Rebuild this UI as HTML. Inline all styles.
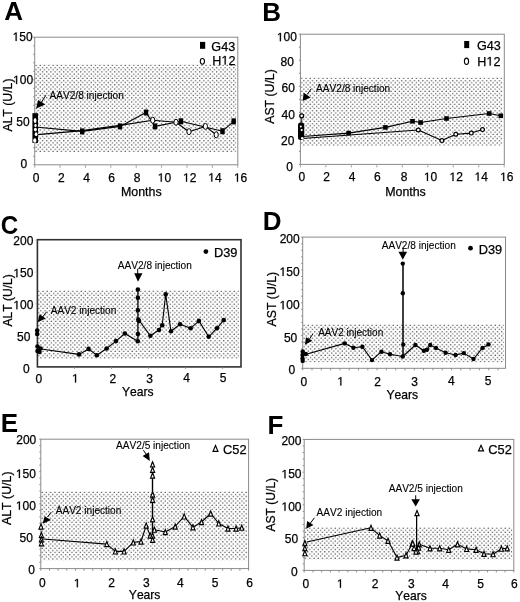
<!DOCTYPE html>
<html><head><meta charset="utf-8"><style>
html,body{margin:0;padding:0;background:#fff;}
body{width:520px;height:602px;overflow:hidden;}
svg{display:block;will-change:transform;font-family:"Liberation Sans",sans-serif;font-kerning:none;}
text{stroke:#000;stroke-width:0.25px;}
text[font-weight=bold]{stroke:none;}
</style></head><body>
<svg width="520" height="602" viewBox="0 0 520 602">
<defs><filter id="soft" x="-2%" y="-5%" width="104%" height="110%"><feGaussianBlur stdDeviation="0.4"/></filter><pattern id="dots0" x="35.00" y="64.33" width="4.25" height="4.3" patternUnits="userSpaceOnUse"><circle cx="1.062" cy="1.075" r="0.72" fill="#505050"/><circle cx="3.188" cy="3.225" r="0.72" fill="#505050"/></pattern><pattern id="dots1" x="300.70" y="77.33" width="4.25" height="4.3" patternUnits="userSpaceOnUse"><circle cx="1.062" cy="1.075" r="0.72" fill="#505050"/><circle cx="3.188" cy="3.225" r="0.72" fill="#505050"/></pattern><pattern id="dots2" x="37.70" y="290.12" width="4.25" height="4.3" patternUnits="userSpaceOnUse"><circle cx="1.062" cy="1.075" r="0.72" fill="#505050"/><circle cx="3.188" cy="3.225" r="0.72" fill="#505050"/></pattern><pattern id="dots3" x="303.00" y="324.12" width="4.25" height="4.3" patternUnits="userSpaceOnUse"><circle cx="1.062" cy="1.075" r="0.72" fill="#505050"/><circle cx="3.188" cy="3.225" r="0.72" fill="#505050"/></pattern><pattern id="dots4" x="41.10" y="491.23" width="4.25" height="4.3" patternUnits="userSpaceOnUse"><circle cx="1.062" cy="1.075" r="0.72" fill="#505050"/><circle cx="3.188" cy="3.225" r="0.72" fill="#505050"/></pattern><pattern id="dots5" x="304.50" y="527.02" width="4.25" height="4.3" patternUnits="userSpaceOnUse"><circle cx="1.062" cy="1.075" r="0.72" fill="#505050"/><circle cx="3.188" cy="3.225" r="0.72" fill="#505050"/></pattern></defs>
<rect width="520" height="602" fill="#fff"/>
<text x="4.15" y="20.39" font-size="26" font-weight="bold" fill="#000">A</text>
<rect x="34.70" y="64.45" width="201.50" height="88.30" fill="url(#dots0)" filter="url(#soft)"/>
<rect x="34.70" y="37.20" width="203.10" height="127.60" fill="none" stroke="#8a8a8a" stroke-width="1.0"/>
<line x1="33.20" y1="164.80" x2="34.70" y2="164.80" stroke="#8a8a8a" stroke-width="1"/>
<line x1="33.20" y1="156.30" x2="34.70" y2="156.30" stroke="#8a8a8a" stroke-width="1"/>
<line x1="33.20" y1="147.80" x2="34.70" y2="147.80" stroke="#8a8a8a" stroke-width="1"/>
<line x1="33.20" y1="139.30" x2="34.70" y2="139.30" stroke="#8a8a8a" stroke-width="1"/>
<line x1="33.20" y1="130.80" x2="34.70" y2="130.80" stroke="#8a8a8a" stroke-width="1"/>
<line x1="33.20" y1="122.30" x2="34.70" y2="122.30" stroke="#8a8a8a" stroke-width="1"/>
<line x1="33.20" y1="113.80" x2="34.70" y2="113.80" stroke="#8a8a8a" stroke-width="1"/>
<line x1="33.20" y1="105.30" x2="34.70" y2="105.30" stroke="#8a8a8a" stroke-width="1"/>
<line x1="33.20" y1="96.80" x2="34.70" y2="96.80" stroke="#8a8a8a" stroke-width="1"/>
<line x1="33.20" y1="88.30" x2="34.70" y2="88.30" stroke="#8a8a8a" stroke-width="1"/>
<line x1="33.20" y1="79.80" x2="34.70" y2="79.80" stroke="#8a8a8a" stroke-width="1"/>
<line x1="33.20" y1="71.30" x2="34.70" y2="71.30" stroke="#8a8a8a" stroke-width="1"/>
<line x1="33.20" y1="62.80" x2="34.70" y2="62.80" stroke="#8a8a8a" stroke-width="1"/>
<line x1="33.20" y1="54.30" x2="34.70" y2="54.30" stroke="#8a8a8a" stroke-width="1"/>
<line x1="33.20" y1="45.80" x2="34.70" y2="45.80" stroke="#8a8a8a" stroke-width="1"/>
<line x1="33.20" y1="37.30" x2="34.70" y2="37.30" stroke="#8a8a8a" stroke-width="1"/>
<line x1="34.70" y1="164.80" x2="34.70" y2="167.80" stroke="#a8a8a8" stroke-width="1"/>
<line x1="60.08" y1="164.80" x2="60.08" y2="167.80" stroke="#a8a8a8" stroke-width="1"/>
<line x1="85.46" y1="164.80" x2="85.46" y2="167.80" stroke="#a8a8a8" stroke-width="1"/>
<line x1="110.84" y1="164.80" x2="110.84" y2="167.80" stroke="#a8a8a8" stroke-width="1"/>
<line x1="136.22" y1="164.80" x2="136.22" y2="167.80" stroke="#a8a8a8" stroke-width="1"/>
<line x1="161.60" y1="164.80" x2="161.60" y2="167.80" stroke="#a8a8a8" stroke-width="1"/>
<line x1="186.98" y1="164.80" x2="186.98" y2="167.80" stroke="#a8a8a8" stroke-width="1"/>
<line x1="212.36" y1="164.80" x2="212.36" y2="167.80" stroke="#a8a8a8" stroke-width="1"/>
<line x1="237.74" y1="164.80" x2="237.74" y2="167.80" stroke="#a8a8a8" stroke-width="1"/>
<text x="12.59" y="40.88" font-size="12.0" fill="#000"><tspan style="fill:none;stroke:none">1</tspan>50</text>
<path d="M15.60,40.88 L15.60,33.63 L13.74,34.96 L13.74,33.96 L15.69,32.62 L16.66,32.62 L16.66,40.88 Z" fill="#000" stroke="#000" stroke-width="0.25"/>
<text x="13.09" y="84.08" font-size="12.0" fill="#000"><tspan style="fill:none;stroke:none">1</tspan>00</text>
<path d="M16.10,84.08 L16.10,76.83 L14.24,78.16 L14.24,77.16 L16.19,75.82 L17.16,75.82 L17.16,84.08 Z" fill="#000" stroke="#000" stroke-width="0.25"/>
<text x="16.32" y="125.88" font-size="12.0" fill="#000">50</text>
<text x="20.53" y="168.28" font-size="12.0" fill="#000">0</text>
<text x="32.66" y="181.68" font-size="12.0" fill="#000">0</text>
<text x="57.96" y="181.68" font-size="12.0" fill="#000">2</text>
<text x="83.20" y="181.56" font-size="12.0" fill="#000">4</text>
<text x="108.22" y="181.68" font-size="12.0" fill="#000">6</text>
<text x="133.66" y="181.68" font-size="12.0" fill="#000">8</text>
<text x="157.70" y="181.68" font-size="12.0" fill="#000"><tspan style="fill:none;stroke:none">1</tspan>0</text>
<path d="M160.72,181.68 L160.72,174.43 L158.86,175.76 L158.86,174.76 L160.81,173.42 L161.78,173.42 L161.78,181.68 Z" fill="#000" stroke="#000" stroke-width="0.25"/>
<text x="182.97" y="181.68" font-size="12.0" fill="#000"><tspan style="fill:none;stroke:none">1</tspan>2</text>
<path d="M185.99,181.68 L185.99,174.43 L184.13,175.76 L184.13,174.76 L186.08,173.42 L187.05,173.42 L187.05,181.68 Z" fill="#000" stroke="#000" stroke-width="0.25"/>
<text x="208.24" y="181.56" font-size="12.0" fill="#000"><tspan style="fill:none;stroke:none">1</tspan>4</text>
<path d="M211.26,181.56 L211.26,174.31 L209.40,175.64 L209.40,174.64 L211.35,173.30 L212.32,173.30 L212.32,181.56 Z" fill="#000" stroke="#000" stroke-width="0.25"/>
<text x="233.93" y="181.68" font-size="12.0" fill="#000"><tspan style="fill:none;stroke:none">1</tspan>6</text>
<path d="M236.95,181.68 L236.95,174.43 L235.09,175.76 L235.09,174.76 L237.04,173.42 L238.01,173.42 L238.01,181.68 Z" fill="#000" stroke="#000" stroke-width="0.25"/>
<text x="120.98" y="196.30" font-size="12.4" fill="#000">Months</text>
<text transform="translate(12.38,131.62) rotate(-90)" font-size="12.25" fill="#000">ALT (U/L)</text>
<rect x="200.00" y="41.90" width="5.2" height="6.9" fill="#000"/>
<text x="211.37" y="50.60" font-size="12.6" fill="#000">G43</text>
<ellipse cx="202.40" cy="61.35" rx="2.1" ry="2.9" fill="#fff" stroke="#000" stroke-width="1.1"/>
<text x="212.37" y="64.60" font-size="12.6" fill="#000">H<tspan style="fill:none;stroke:none">1</tspan>2</text>
<path d="M224.63,64.60 L224.63,56.99 L222.68,58.39 L222.68,57.34 L224.73,55.93 L225.75,55.93 L225.75,64.60 Z" fill="#000" stroke="#000" stroke-width="0.25"/>
<polyline points="45.90,95.20 41.50,102.00" fill="none" stroke="#000" stroke-width="1.0" stroke-linejoin="round"/>
<polygon points="36.10,108.50 38.10,100.10 45.30,104.40" fill="#000"/>
<text x="49.48" y="98.80" font-size="10.15" fill="#000" style="stroke-width:0.1px">AAV2/8 injection</text>
<polyline points="37.60,127.30 82.20,131.40 120.00,126.40 146.00,112.50 155.00,126.40 181.00,121.30 222.50,131.20 233.70,121.40" fill="none" stroke="#000" stroke-width="1.1" stroke-linejoin="round"/>
<polyline points="37.60,134.60 82.20,130.60 120.00,125.40 152.70,120.20 176.00,122.30 189.00,131.70 205.40,126.40 216.20,134.80" fill="none" stroke="#000" stroke-width="1.1" stroke-linejoin="round"/>
<rect x="32.4" y="113.2" width="5.6" height="29.7" fill="#000"/>
<ellipse cx="35.1" cy="120.6" rx="1.4" ry="2.5" fill="#fff"/>
<ellipse cx="35.5" cy="125.4" rx="1.2" ry="1.6" fill="#fff"/>
<ellipse cx="35.4" cy="129.6" rx="1.5" ry="1.8" fill="#fff"/>
<ellipse cx="36.1" cy="134.2" rx="1.4" ry="1.9" fill="#fff"/>
<ellipse cx="34.8" cy="140.5" rx="1.6" ry="2.3" fill="#fff"/>
<ellipse cx="152.70" cy="120.20" rx="2.1" ry="3.0" fill="#fff" stroke="#000" stroke-width="1.0"/>
<ellipse cx="176.00" cy="122.30" rx="2.1" ry="3.0" fill="#fff" stroke="#000" stroke-width="1.0"/>
<ellipse cx="189.00" cy="131.70" rx="2.1" ry="3.0" fill="#fff" stroke="#000" stroke-width="1.0"/>
<ellipse cx="205.40" cy="126.40" rx="2.1" ry="3.0" fill="#fff" stroke="#000" stroke-width="1.0"/>
<ellipse cx="216.20" cy="134.80" rx="2.1" ry="3.0" fill="#fff" stroke="#000" stroke-width="1.0"/>
<rect x="80.00" y="128.40" width="4.4" height="6.0" fill="#000"/>
<rect x="117.80" y="123.40" width="4.4" height="6.0" fill="#000"/>
<rect x="143.80" y="109.50" width="4.4" height="6.0" fill="#000"/>
<rect x="152.80" y="123.40" width="4.4" height="6.0" fill="#000"/>
<rect x="178.80" y="118.30" width="4.4" height="6.0" fill="#000"/>
<rect x="220.30" y="128.20" width="4.4" height="6.0" fill="#000"/>
<rect x="231.50" y="118.40" width="4.4" height="6.0" fill="#000"/>
<text x="262.26" y="20.79" font-size="26" font-weight="bold" fill="#000">B</text>
<rect x="300.40" y="77.45" width="202.30" height="68.40" fill="url(#dots1)" filter="url(#soft)"/>
<rect x="300.40" y="34.20" width="203.90" height="130.20" fill="none" stroke="#8a8a8a" stroke-width="1.0"/>
<line x1="298.90" y1="164.40" x2="300.40" y2="164.40" stroke="#8a8a8a" stroke-width="1"/>
<line x1="298.90" y1="151.38" x2="300.40" y2="151.38" stroke="#8a8a8a" stroke-width="1"/>
<line x1="298.90" y1="138.36" x2="300.40" y2="138.36" stroke="#8a8a8a" stroke-width="1"/>
<line x1="298.90" y1="125.34" x2="300.40" y2="125.34" stroke="#8a8a8a" stroke-width="1"/>
<line x1="298.90" y1="112.32" x2="300.40" y2="112.32" stroke="#8a8a8a" stroke-width="1"/>
<line x1="298.90" y1="99.30" x2="300.40" y2="99.30" stroke="#8a8a8a" stroke-width="1"/>
<line x1="298.90" y1="86.28" x2="300.40" y2="86.28" stroke="#8a8a8a" stroke-width="1"/>
<line x1="298.90" y1="73.26" x2="300.40" y2="73.26" stroke="#8a8a8a" stroke-width="1"/>
<line x1="298.90" y1="60.24" x2="300.40" y2="60.24" stroke="#8a8a8a" stroke-width="1"/>
<line x1="298.90" y1="47.22" x2="300.40" y2="47.22" stroke="#8a8a8a" stroke-width="1"/>
<line x1="298.90" y1="34.20" x2="300.40" y2="34.20" stroke="#8a8a8a" stroke-width="1"/>
<line x1="300.40" y1="164.40" x2="300.40" y2="167.40" stroke="#a8a8a8" stroke-width="1"/>
<line x1="325.88" y1="164.40" x2="325.88" y2="167.40" stroke="#a8a8a8" stroke-width="1"/>
<line x1="351.36" y1="164.40" x2="351.36" y2="167.40" stroke="#a8a8a8" stroke-width="1"/>
<line x1="376.84" y1="164.40" x2="376.84" y2="167.40" stroke="#a8a8a8" stroke-width="1"/>
<line x1="402.32" y1="164.40" x2="402.32" y2="167.40" stroke="#a8a8a8" stroke-width="1"/>
<line x1="427.80" y1="164.40" x2="427.80" y2="167.40" stroke="#a8a8a8" stroke-width="1"/>
<line x1="453.28" y1="164.40" x2="453.28" y2="167.40" stroke="#a8a8a8" stroke-width="1"/>
<line x1="478.76" y1="164.40" x2="478.76" y2="167.40" stroke="#a8a8a8" stroke-width="1"/>
<line x1="504.24" y1="164.40" x2="504.24" y2="167.40" stroke="#a8a8a8" stroke-width="1"/>
<text x="276.85" y="41.18" font-size="12.0" fill="#000"><tspan style="fill:none;stroke:none">1</tspan>00</text>
<path d="M279.86,41.18 L279.86,33.93 L278.00,35.26 L278.00,34.26 L279.95,32.92 L280.93,32.92 L280.93,41.18 Z" fill="#000" stroke="#000" stroke-width="0.25"/>
<text x="280.52" y="66.28" font-size="12.0" fill="#000">80</text>
<text x="281.52" y="92.28" font-size="12.0" fill="#000">60</text>
<text x="281.52" y="119.18" font-size="12.0" fill="#000">40</text>
<text x="281.12" y="145.38" font-size="12.0" fill="#000">20</text>
<text x="286.19" y="170.78" font-size="12.0" fill="#000">0</text>
<text x="298.56" y="180.98" font-size="12.0" fill="#000">0</text>
<text x="323.36" y="180.98" font-size="12.0" fill="#000">2</text>
<text x="348.70" y="180.86" font-size="12.0" fill="#000">4</text>
<text x="374.12" y="180.98" font-size="12.0" fill="#000">6</text>
<text x="400.66" y="180.98" font-size="12.0" fill="#000">8</text>
<text x="423.90" y="180.98" font-size="12.0" fill="#000"><tspan style="fill:none;stroke:none">1</tspan>0</text>
<path d="M426.92,180.98 L426.92,173.73 L425.06,175.06 L425.06,174.06 L427.01,172.72 L427.98,172.72 L427.98,180.98 Z" fill="#000" stroke="#000" stroke-width="0.25"/>
<text x="449.47" y="180.98" font-size="12.0" fill="#000"><tspan style="fill:none;stroke:none">1</tspan>2</text>
<path d="M452.49,180.98 L452.49,173.73 L450.63,175.06 L450.63,174.06 L452.58,172.72 L453.55,172.72 L453.55,180.98 Z" fill="#000" stroke="#000" stroke-width="0.25"/>
<text x="474.54" y="180.86" font-size="12.0" fill="#000"><tspan style="fill:none;stroke:none">1</tspan>4</text>
<path d="M477.56,180.86 L477.56,173.61 L475.70,174.94 L475.70,173.94 L477.65,172.60 L478.62,172.60 L478.62,180.86 Z" fill="#000" stroke="#000" stroke-width="0.25"/>
<text x="500.13" y="180.98" font-size="12.0" fill="#000"><tspan style="fill:none;stroke:none">1</tspan>6</text>
<path d="M503.15,180.98 L503.15,173.73 L501.29,175.06 L501.29,174.06 L503.24,172.72 L504.21,172.72 L504.21,180.98 Z" fill="#000" stroke="#000" stroke-width="0.25"/>
<text x="385.18" y="196.30" font-size="12.4" fill="#000">Months</text>
<text transform="translate(274.38,123.72) rotate(-90)" font-size="12.26" fill="#000">AST (U/L)</text>
<rect x="464.20" y="41.00" width="5.0" height="7.1" fill="#000"/>
<text x="477.07" y="50.20" font-size="12.6" fill="#000">G43</text>
<ellipse cx="466.50" cy="61.30" rx="2.1" ry="3.15" fill="#fff" stroke="#000" stroke-width="1.1"/>
<text x="477.37" y="65.60" font-size="12.6" fill="#000">H<tspan style="fill:none;stroke:none">1</tspan>2</text>
<path d="M489.63,65.60 L489.63,57.99 L487.68,59.39 L487.68,58.34 L489.73,56.93 L490.75,56.93 L490.75,65.60 Z" fill="#000" stroke="#000" stroke-width="0.25"/>
<polyline points="311.30,88.70 307.20,94.50" fill="none" stroke="#000" stroke-width="1.0" stroke-linejoin="round"/>
<polygon points="302.60,100.90 303.70,92.80 310.70,97.40" fill="#000"/>
<text x="316.08" y="91.80" font-size="10.1" fill="#000" style="stroke-width:0.1px">AAV2/8 injection</text>
<polyline points="302.00,136.50 348.60,133.10 385.40,127.40 412.50,121.30 420.60,122.50 446.50,118.50 489.20,113.50 500.80,115.80" fill="none" stroke="#000" stroke-width="1.1" stroke-linejoin="round"/>
<polyline points="302.00,138.50 418.30,130.00 441.90,140.60 455.80,134.20 471.30,133.10 482.50,129.60" fill="none" stroke="#000" stroke-width="1.1" stroke-linejoin="round"/>
<polyline points="301.70,117.50 301.70,123.00" fill="none" stroke="#000" stroke-width="0.8" stroke-linejoin="round"/>
<rect x="298" y="122.5" width="6.2" height="17.5" rx="2.5" fill="#000"/>
<circle cx="300.8" cy="126.6" r="1.0" fill="#fff"/>
<circle cx="301.7" cy="130.1" r="1.1" fill="#fff"/>
<circle cx="302.3" cy="138.3" r="1.3" fill="#fff"/>
<ellipse cx="301.70" cy="115.80" rx="1.9" ry="2.0" fill="#fff" stroke="#000" stroke-width="1.3"/>
<ellipse cx="418.30" cy="130.00" rx="1.9" ry="1.9" fill="#fff" stroke="#000" stroke-width="1.2"/>
<ellipse cx="441.90" cy="140.60" rx="1.9" ry="1.9" fill="#fff" stroke="#000" stroke-width="1.2"/>
<ellipse cx="455.80" cy="134.20" rx="1.9" ry="1.9" fill="#fff" stroke="#000" stroke-width="1.2"/>
<ellipse cx="471.30" cy="133.10" rx="1.9" ry="1.9" fill="#fff" stroke="#000" stroke-width="1.2"/>
<ellipse cx="482.50" cy="129.60" rx="1.9" ry="1.9" fill="#fff" stroke="#000" stroke-width="1.2"/>
<rect x="346.30" y="130.80" width="4.6" height="4.6" fill="#000"/>
<rect x="383.10" y="125.10" width="4.6" height="4.6" fill="#000"/>
<rect x="410.20" y="119.00" width="4.6" height="4.6" fill="#000"/>
<rect x="418.30" y="120.20" width="4.6" height="4.6" fill="#000"/>
<rect x="444.20" y="116.20" width="4.6" height="4.6" fill="#000"/>
<rect x="486.90" y="111.20" width="4.6" height="4.6" fill="#000"/>
<rect x="498.50" y="113.50" width="4.6" height="4.6" fill="#000"/>
<text x="0.71" y="233.75" font-size="26" font-weight="bold" fill="#000" textLength="17.45" lengthAdjust="spacingAndGlyphs">C</text>
<rect x="37.40" y="290.25" width="201.40" height="68.50" fill="url(#dots2)" filter="url(#soft)"/>
<rect x="37.40" y="239.70" width="203.60" height="127.20" fill="none" stroke="#303030" stroke-width="1.6"/>
<line x1="35.50" y1="335.27" x2="36.70" y2="335.27" stroke="#aaa" stroke-width="1"/>
<line x1="35.50" y1="303.65" x2="36.70" y2="303.65" stroke="#aaa" stroke-width="1"/>
<line x1="35.50" y1="272.02" x2="36.70" y2="272.02" stroke="#aaa" stroke-width="1"/>
<line x1="35.50" y1="240.40" x2="36.70" y2="240.40" stroke="#aaa" stroke-width="1"/>
<line x1="74.45" y1="367.60" x2="74.45" y2="369.10" stroke="#aaa" stroke-width="1"/>
<line x1="111.50" y1="367.60" x2="111.50" y2="369.10" stroke="#aaa" stroke-width="1"/>
<line x1="148.55" y1="367.60" x2="148.55" y2="369.10" stroke="#aaa" stroke-width="1"/>
<line x1="185.60" y1="367.60" x2="185.60" y2="369.10" stroke="#aaa" stroke-width="1"/>
<line x1="222.65" y1="367.60" x2="222.65" y2="369.10" stroke="#aaa" stroke-width="1"/>
<text x="13.35" y="245.08" font-size="12.0" fill="#000">200</text>
<text x="13.35" y="277.18" font-size="12.0" fill="#000"><tspan style="fill:none;stroke:none">1</tspan>50</text>
<path d="M16.36,277.18 L16.36,269.93 L14.50,271.26 L14.50,270.26 L16.45,268.92 L17.43,268.92 L17.43,277.18 Z" fill="#000" stroke="#000" stroke-width="0.25"/>
<text x="13.35" y="309.18" font-size="12.0" fill="#000"><tspan style="fill:none;stroke:none">1</tspan>00</text>
<path d="M16.36,309.18 L16.36,301.93 L14.50,303.26 L14.50,302.26 L16.45,300.92 L17.43,300.92 L17.43,309.18 Z" fill="#000" stroke="#000" stroke-width="0.25"/>
<text x="17.12" y="341.38" font-size="12.0" fill="#000">50</text>
<text x="22.99" y="372.98" font-size="12.0" fill="#000">0</text>
<text x="35.41" y="382.58" font-size="12.0" fill="#000">0</text>
<text x="72.00" y="382.46" font-size="12.0" fill="#000"><tspan style="fill:none;stroke:none">1</tspan></text>
<path d="M75.02,382.46 L75.02,375.21 L73.15,376.54 L73.15,375.54 L75.10,374.20 L76.08,374.20 L76.08,382.46 Z" fill="#000" stroke="#000" stroke-width="0.25"/>
<text x="109.56" y="382.58" font-size="12.0" fill="#000">2</text>
<text x="146.30" y="382.58" font-size="12.0" fill="#000">3</text>
<text x="183.20" y="382.46" font-size="12.0" fill="#000">4</text>
<text x="219.67" y="382.46" font-size="12.0" fill="#000">5</text>
<text x="121.93" y="395.60" font-size="12.1" fill="#000">Years</text>
<text transform="translate(12.44,326.42) rotate(-90)" font-size="12.06" fill="#000">ALT (U/L)</text>
<circle cx="205.90" cy="251.60" r="2.4" fill="#000"/>
<text x="213.95" y="256.60" font-size="12.8" fill="#000">D39</text>
<polyline points="46.70,311.70 42.50,317.00" fill="none" stroke="#000" stroke-width="1.0" stroke-linejoin="round"/>
<polygon points="37.60,322.30 39.60,314.20 45.70,318.50" fill="#000"/>
<text x="50.68" y="313.50" font-size="10.1" fill="#000" style="stroke-width:0.1px">AAV2 injection</text>
<polyline points="137.70,268.80 137.70,274.00" fill="none" stroke="#000" stroke-width="1.0" stroke-linejoin="round"/>
<polygon points="134.20,273.20 142.50,273.20 138.00,281.80" fill="#000"/>
<text x="117.78" y="269.40" font-size="10.1" fill="#000" style="stroke-width:0.1px">AAV2/8 injection</text>
<polyline points="137.90,289.50 137.90,341.30" fill="none" stroke="#000" stroke-width="1.3" stroke-linejoin="round"/>
<polyline points="41.00,349.00 79.00,354.40 88.50,348.90 96.90,355.30 106.60,348.50 116.00,341.10 124.80,333.50 137.80,341.30" fill="none" stroke="#000" stroke-width="1.1" stroke-linejoin="round"/>
<polyline points="138.80,320.00 150.40,335.80 158.90,330.00 162.20,325.20 165.70,294.40 171.00,331.30 180.10,324.20 190.60,328.30 198.90,320.90 208.70,336.80 216.90,328.30 223.70,320.10" fill="none" stroke="#000" stroke-width="1.1" stroke-linejoin="round"/>
<circle cx="37.20" cy="330.50" r="2.3" fill="#000"/>
<circle cx="37.20" cy="334.00" r="2.3" fill="#000"/>
<circle cx="37.50" cy="346.50" r="2.3" fill="#000"/>
<circle cx="37.50" cy="351.00" r="2.3" fill="#000"/>
<circle cx="40.50" cy="348.50" r="2.3" fill="#000"/>
<circle cx="39.50" cy="352.00" r="2.3" fill="#000"/>
<circle cx="79.00" cy="354.40" r="2.3" fill="#000"/>
<circle cx="88.50" cy="348.90" r="2.3" fill="#000"/>
<circle cx="96.90" cy="355.30" r="2.3" fill="#000"/>
<circle cx="106.60" cy="348.50" r="2.3" fill="#000"/>
<circle cx="116.00" cy="341.10" r="2.3" fill="#000"/>
<circle cx="124.80" cy="333.50" r="2.3" fill="#000"/>
<circle cx="137.80" cy="341.30" r="2.3" fill="#000"/>
<circle cx="137.90" cy="289.50" r="2.3" fill="#000"/>
<circle cx="137.90" cy="297.80" r="2.3" fill="#000"/>
<circle cx="137.90" cy="310.20" r="2.3" fill="#000"/>
<circle cx="138.30" cy="319.50" r="2.3" fill="#000"/>
<circle cx="138.90" cy="321.00" r="2.3" fill="#000"/>
<circle cx="137.90" cy="334.00" r="2.3" fill="#000"/>
<circle cx="150.40" cy="335.80" r="2.3" fill="#000"/>
<circle cx="158.90" cy="330.00" r="2.3" fill="#000"/>
<circle cx="162.20" cy="325.20" r="2.3" fill="#000"/>
<circle cx="165.70" cy="294.40" r="2.3" fill="#000"/>
<circle cx="171.00" cy="331.30" r="2.3" fill="#000"/>
<circle cx="180.10" cy="324.20" r="2.3" fill="#000"/>
<circle cx="190.60" cy="328.30" r="2.3" fill="#000"/>
<circle cx="198.90" cy="320.90" r="2.3" fill="#000"/>
<circle cx="208.70" cy="336.80" r="2.3" fill="#000"/>
<circle cx="216.90" cy="328.30" r="2.3" fill="#000"/>
<circle cx="223.70" cy="320.10" r="2.3" fill="#000"/>
<text x="262.66" y="230.09" font-size="26" font-weight="bold" fill="#000">D</text>
<rect x="302.70" y="324.25" width="201.20" height="38.00" fill="url(#dots3)" filter="url(#soft)"/>
<rect x="302.70" y="237.10" width="202.80" height="131.20" fill="none" stroke="#8a8a8a" stroke-width="1.0"/>
<line x1="301.20" y1="368.30" x2="302.70" y2="368.30" stroke="#8a8a8a" stroke-width="1"/>
<line x1="301.20" y1="361.75" x2="302.70" y2="361.75" stroke="#8a8a8a" stroke-width="1"/>
<line x1="301.20" y1="355.19" x2="302.70" y2="355.19" stroke="#8a8a8a" stroke-width="1"/>
<line x1="301.20" y1="348.63" x2="302.70" y2="348.63" stroke="#8a8a8a" stroke-width="1"/>
<line x1="301.20" y1="342.08" x2="302.70" y2="342.08" stroke="#8a8a8a" stroke-width="1"/>
<line x1="301.20" y1="335.53" x2="302.70" y2="335.53" stroke="#8a8a8a" stroke-width="1"/>
<line x1="301.20" y1="328.97" x2="302.70" y2="328.97" stroke="#8a8a8a" stroke-width="1"/>
<line x1="301.20" y1="322.42" x2="302.70" y2="322.42" stroke="#8a8a8a" stroke-width="1"/>
<line x1="301.20" y1="315.86" x2="302.70" y2="315.86" stroke="#8a8a8a" stroke-width="1"/>
<line x1="301.20" y1="309.31" x2="302.70" y2="309.31" stroke="#8a8a8a" stroke-width="1"/>
<line x1="301.20" y1="302.75" x2="302.70" y2="302.75" stroke="#8a8a8a" stroke-width="1"/>
<line x1="301.20" y1="296.20" x2="302.70" y2="296.20" stroke="#8a8a8a" stroke-width="1"/>
<line x1="301.20" y1="289.64" x2="302.70" y2="289.64" stroke="#8a8a8a" stroke-width="1"/>
<line x1="301.20" y1="283.09" x2="302.70" y2="283.09" stroke="#8a8a8a" stroke-width="1"/>
<line x1="301.20" y1="276.53" x2="302.70" y2="276.53" stroke="#8a8a8a" stroke-width="1"/>
<line x1="301.20" y1="269.98" x2="302.70" y2="269.98" stroke="#8a8a8a" stroke-width="1"/>
<line x1="301.20" y1="263.42" x2="302.70" y2="263.42" stroke="#8a8a8a" stroke-width="1"/>
<line x1="301.20" y1="256.87" x2="302.70" y2="256.87" stroke="#8a8a8a" stroke-width="1"/>
<line x1="301.20" y1="250.31" x2="302.70" y2="250.31" stroke="#8a8a8a" stroke-width="1"/>
<line x1="301.20" y1="243.76" x2="302.70" y2="243.76" stroke="#8a8a8a" stroke-width="1"/>
<line x1="301.20" y1="237.20" x2="302.70" y2="237.20" stroke="#8a8a8a" stroke-width="1"/>
<line x1="302.70" y1="368.30" x2="302.70" y2="370.30" stroke="#8a8a8a" stroke-width="1"/>
<line x1="312.00" y1="368.30" x2="312.00" y2="370.30" stroke="#8a8a8a" stroke-width="1"/>
<line x1="321.30" y1="368.30" x2="321.30" y2="370.30" stroke="#8a8a8a" stroke-width="1"/>
<line x1="330.60" y1="368.30" x2="330.60" y2="370.30" stroke="#8a8a8a" stroke-width="1"/>
<line x1="339.90" y1="368.30" x2="339.90" y2="370.30" stroke="#8a8a8a" stroke-width="1"/>
<line x1="349.20" y1="368.30" x2="349.20" y2="370.30" stroke="#8a8a8a" stroke-width="1"/>
<line x1="358.50" y1="368.30" x2="358.50" y2="370.30" stroke="#8a8a8a" stroke-width="1"/>
<line x1="367.80" y1="368.30" x2="367.80" y2="370.30" stroke="#8a8a8a" stroke-width="1"/>
<line x1="377.10" y1="368.30" x2="377.10" y2="370.30" stroke="#8a8a8a" stroke-width="1"/>
<line x1="386.40" y1="368.30" x2="386.40" y2="370.30" stroke="#8a8a8a" stroke-width="1"/>
<line x1="395.70" y1="368.30" x2="395.70" y2="370.30" stroke="#8a8a8a" stroke-width="1"/>
<line x1="405.00" y1="368.30" x2="405.00" y2="370.30" stroke="#8a8a8a" stroke-width="1"/>
<line x1="414.30" y1="368.30" x2="414.30" y2="370.30" stroke="#8a8a8a" stroke-width="1"/>
<line x1="423.60" y1="368.30" x2="423.60" y2="370.30" stroke="#8a8a8a" stroke-width="1"/>
<line x1="432.90" y1="368.30" x2="432.90" y2="370.30" stroke="#8a8a8a" stroke-width="1"/>
<line x1="442.20" y1="368.30" x2="442.20" y2="370.30" stroke="#8a8a8a" stroke-width="1"/>
<line x1="451.50" y1="368.30" x2="451.50" y2="370.30" stroke="#8a8a8a" stroke-width="1"/>
<line x1="460.80" y1="368.30" x2="460.80" y2="370.30" stroke="#8a8a8a" stroke-width="1"/>
<line x1="470.10" y1="368.30" x2="470.10" y2="370.30" stroke="#8a8a8a" stroke-width="1"/>
<line x1="479.40" y1="368.30" x2="479.40" y2="370.30" stroke="#8a8a8a" stroke-width="1"/>
<line x1="488.70" y1="368.30" x2="488.70" y2="370.30" stroke="#8a8a8a" stroke-width="1"/>
<line x1="498.00" y1="368.30" x2="498.00" y2="370.30" stroke="#8a8a8a" stroke-width="1"/>
<text x="279.65" y="242.78" font-size="12.0" fill="#000">200</text>
<text x="279.55" y="275.88" font-size="12.0" fill="#000"><tspan style="fill:none;stroke:none">1</tspan>50</text>
<path d="M282.56,275.88 L282.56,268.63 L280.70,269.96 L280.70,268.96 L282.65,267.62 L283.63,267.62 L283.63,275.88 Z" fill="#000" stroke="#000" stroke-width="0.25"/>
<text x="279.55" y="309.28" font-size="12.0" fill="#000"><tspan style="fill:none;stroke:none">1</tspan>00</text>
<path d="M282.56,309.28 L282.56,302.03 L280.70,303.36 L280.70,302.36 L282.65,301.02 L283.63,301.02 L283.63,309.28 Z" fill="#000" stroke="#000" stroke-width="0.25"/>
<text x="283.92" y="341.98" font-size="12.0" fill="#000">50</text>
<text x="288.59" y="374.28" font-size="12.0" fill="#000">0</text>
<text x="300.61" y="385.58" font-size="12.0" fill="#000">0</text>
<text x="337.30" y="385.46" font-size="12.0" fill="#000"><tspan style="fill:none;stroke:none">1</tspan></text>
<path d="M340.32,385.46 L340.32,378.21 L338.45,379.54 L338.45,378.54 L340.40,377.20 L341.38,377.20 L341.38,385.46 Z" fill="#000" stroke="#000" stroke-width="0.25"/>
<text x="374.36" y="385.58" font-size="12.0" fill="#000">2</text>
<text x="411.35" y="385.58" font-size="12.0" fill="#000">3</text>
<text x="447.90" y="385.46" font-size="12.0" fill="#000">4</text>
<text x="484.77" y="385.46" font-size="12.0" fill="#000">5</text>
<text x="386.43" y="399.00" font-size="12.1" fill="#000">Years</text>
<text transform="translate(275.50,326.42) rotate(-90)" font-size="12.28" fill="#000">AST (U/L)</text>
<circle cx="470.50" cy="248.20" r="2.4" fill="#000"/>
<text x="478.75" y="253.70" font-size="12.8" fill="#000">D39</text>
<polyline points="313.00,333.80 309.50,339.00" fill="none" stroke="#000" stroke-width="1.0" stroke-linejoin="round"/>
<polygon points="304.90,344.80 306.00,337.30 312.40,340.80" fill="#000"/>
<text x="318.18" y="335.80" font-size="10.0" fill="#000" style="stroke-width:0.1px">AAV2 injection</text>
<polyline points="403.10,247.70 403.10,252.50" fill="none" stroke="#000" stroke-width="1.0" stroke-linejoin="round"/>
<polygon points="398.50,251.70 407.10,251.70 402.80,259.80" fill="#000"/>
<text x="381.68" y="248.60" font-size="10.1" fill="#000" style="stroke-width:0.1px">AAV2/8 injection</text>
<polyline points="403.00,263.60 403.00,356.50" fill="none" stroke="#000" stroke-width="1.5" stroke-linejoin="round"/>
<polyline points="307.00,354.00 344.70,343.40 353.40,347.70 362.40,346.80 372.00,360.10 381.40,351.70 390.00,354.20 402.70,356.50 415.40,345.00 423.80,350.80 426.90,349.80 430.20,345.00 436.00,347.90 445.60,352.70 455.60,355.00 463.80,353.10 473.50,359.00 482.50,347.90 488.50,344.40" fill="none" stroke="#000" stroke-width="1.1" stroke-linejoin="round"/>
<circle cx="302.70" cy="351.50" r="2.2" fill="#000"/>
<circle cx="302.50" cy="355.00" r="2.2" fill="#000"/>
<circle cx="302.50" cy="358.50" r="2.2" fill="#000"/>
<circle cx="302.70" cy="360.90" r="2.2" fill="#000"/>
<circle cx="305.80" cy="354.00" r="2.2" fill="#000"/>
<circle cx="344.70" cy="343.40" r="2.2" fill="#000"/>
<circle cx="353.40" cy="347.70" r="2.2" fill="#000"/>
<circle cx="362.40" cy="346.80" r="2.2" fill="#000"/>
<circle cx="372.00" cy="360.10" r="2.2" fill="#000"/>
<circle cx="381.40" cy="351.70" r="2.2" fill="#000"/>
<circle cx="390.00" cy="354.20" r="2.2" fill="#000"/>
<circle cx="402.70" cy="356.50" r="2.2" fill="#000"/>
<circle cx="403.30" cy="344.60" r="2.2" fill="#000"/>
<circle cx="402.80" cy="263.60" r="2.2" fill="#000"/>
<circle cx="402.80" cy="293.30" r="2.2" fill="#000"/>
<circle cx="415.40" cy="345.00" r="2.2" fill="#000"/>
<circle cx="423.80" cy="350.80" r="2.2" fill="#000"/>
<circle cx="426.90" cy="349.80" r="2.2" fill="#000"/>
<circle cx="430.20" cy="345.00" r="2.2" fill="#000"/>
<circle cx="436.00" cy="347.90" r="2.2" fill="#000"/>
<circle cx="445.60" cy="352.70" r="2.2" fill="#000"/>
<circle cx="455.60" cy="355.00" r="2.2" fill="#000"/>
<circle cx="463.80" cy="353.10" r="2.2" fill="#000"/>
<circle cx="473.50" cy="359.00" r="2.2" fill="#000"/>
<circle cx="482.50" cy="347.90" r="2.2" fill="#000"/>
<circle cx="488.50" cy="344.40" r="2.2" fill="#000"/>
<text x="0.76" y="432.09" font-size="26" font-weight="bold" fill="#000">E</text>
<rect x="40.80" y="491.35" width="206.20" height="68.90" fill="url(#dots4)" filter="url(#soft)"/>
<rect x="40.80" y="439.20" width="207.80" height="129.40" fill="none" stroke="#8a8a8a" stroke-width="1.0"/>
<line x1="39.30" y1="568.60" x2="40.80" y2="568.60" stroke="#8a8a8a" stroke-width="1"/>
<line x1="39.30" y1="562.13" x2="40.80" y2="562.13" stroke="#8a8a8a" stroke-width="1"/>
<line x1="39.30" y1="555.66" x2="40.80" y2="555.66" stroke="#8a8a8a" stroke-width="1"/>
<line x1="39.30" y1="549.19" x2="40.80" y2="549.19" stroke="#8a8a8a" stroke-width="1"/>
<line x1="39.30" y1="542.72" x2="40.80" y2="542.72" stroke="#8a8a8a" stroke-width="1"/>
<line x1="39.30" y1="536.25" x2="40.80" y2="536.25" stroke="#8a8a8a" stroke-width="1"/>
<line x1="39.30" y1="529.78" x2="40.80" y2="529.78" stroke="#8a8a8a" stroke-width="1"/>
<line x1="39.30" y1="523.31" x2="40.80" y2="523.31" stroke="#8a8a8a" stroke-width="1"/>
<line x1="39.30" y1="516.84" x2="40.80" y2="516.84" stroke="#8a8a8a" stroke-width="1"/>
<line x1="39.30" y1="510.37" x2="40.80" y2="510.37" stroke="#8a8a8a" stroke-width="1"/>
<line x1="39.30" y1="503.90" x2="40.80" y2="503.90" stroke="#8a8a8a" stroke-width="1"/>
<line x1="39.30" y1="497.43" x2="40.80" y2="497.43" stroke="#8a8a8a" stroke-width="1"/>
<line x1="39.30" y1="490.96" x2="40.80" y2="490.96" stroke="#8a8a8a" stroke-width="1"/>
<line x1="39.30" y1="484.49" x2="40.80" y2="484.49" stroke="#8a8a8a" stroke-width="1"/>
<line x1="39.30" y1="478.02" x2="40.80" y2="478.02" stroke="#8a8a8a" stroke-width="1"/>
<line x1="39.30" y1="471.55" x2="40.80" y2="471.55" stroke="#8a8a8a" stroke-width="1"/>
<line x1="39.30" y1="465.08" x2="40.80" y2="465.08" stroke="#8a8a8a" stroke-width="1"/>
<line x1="39.30" y1="458.61" x2="40.80" y2="458.61" stroke="#8a8a8a" stroke-width="1"/>
<line x1="39.30" y1="452.14" x2="40.80" y2="452.14" stroke="#8a8a8a" stroke-width="1"/>
<line x1="39.30" y1="445.67" x2="40.80" y2="445.67" stroke="#8a8a8a" stroke-width="1"/>
<line x1="39.30" y1="439.20" x2="40.80" y2="439.20" stroke="#8a8a8a" stroke-width="1"/>
<line x1="40.80" y1="568.60" x2="40.80" y2="570.60" stroke="#8a8a8a" stroke-width="1"/>
<line x1="49.46" y1="568.60" x2="49.46" y2="570.60" stroke="#8a8a8a" stroke-width="1"/>
<line x1="58.11" y1="568.60" x2="58.11" y2="570.60" stroke="#8a8a8a" stroke-width="1"/>
<line x1="66.77" y1="568.60" x2="66.77" y2="570.60" stroke="#8a8a8a" stroke-width="1"/>
<line x1="75.43" y1="568.60" x2="75.43" y2="570.60" stroke="#8a8a8a" stroke-width="1"/>
<line x1="84.09" y1="568.60" x2="84.09" y2="570.60" stroke="#8a8a8a" stroke-width="1"/>
<line x1="92.75" y1="568.60" x2="92.75" y2="570.60" stroke="#8a8a8a" stroke-width="1"/>
<line x1="101.40" y1="568.60" x2="101.40" y2="570.60" stroke="#8a8a8a" stroke-width="1"/>
<line x1="110.06" y1="568.60" x2="110.06" y2="570.60" stroke="#8a8a8a" stroke-width="1"/>
<line x1="118.72" y1="568.60" x2="118.72" y2="570.60" stroke="#8a8a8a" stroke-width="1"/>
<line x1="127.38" y1="568.60" x2="127.38" y2="570.60" stroke="#8a8a8a" stroke-width="1"/>
<line x1="136.03" y1="568.60" x2="136.03" y2="570.60" stroke="#8a8a8a" stroke-width="1"/>
<line x1="144.69" y1="568.60" x2="144.69" y2="570.60" stroke="#8a8a8a" stroke-width="1"/>
<line x1="153.35" y1="568.60" x2="153.35" y2="570.60" stroke="#8a8a8a" stroke-width="1"/>
<line x1="162.00" y1="568.60" x2="162.00" y2="570.60" stroke="#8a8a8a" stroke-width="1"/>
<line x1="170.66" y1="568.60" x2="170.66" y2="570.60" stroke="#8a8a8a" stroke-width="1"/>
<line x1="179.32" y1="568.60" x2="179.32" y2="570.60" stroke="#8a8a8a" stroke-width="1"/>
<line x1="187.98" y1="568.60" x2="187.98" y2="570.60" stroke="#8a8a8a" stroke-width="1"/>
<line x1="196.63" y1="568.60" x2="196.63" y2="570.60" stroke="#8a8a8a" stroke-width="1"/>
<line x1="205.29" y1="568.60" x2="205.29" y2="570.60" stroke="#8a8a8a" stroke-width="1"/>
<line x1="213.95" y1="568.60" x2="213.95" y2="570.60" stroke="#8a8a8a" stroke-width="1"/>
<line x1="222.61" y1="568.60" x2="222.61" y2="570.60" stroke="#8a8a8a" stroke-width="1"/>
<line x1="231.26" y1="568.60" x2="231.26" y2="570.60" stroke="#8a8a8a" stroke-width="1"/>
<line x1="239.92" y1="568.60" x2="239.92" y2="570.60" stroke="#8a8a8a" stroke-width="1"/>
<line x1="248.58" y1="568.60" x2="248.58" y2="570.60" stroke="#8a8a8a" stroke-width="1"/>
<text x="16.25" y="444.28" font-size="12.0" fill="#000">200</text>
<text x="15.85" y="477.88" font-size="12.0" fill="#000"><tspan style="fill:none;stroke:none">1</tspan>50</text>
<path d="M18.86,477.88 L18.86,470.63 L17.00,471.96 L17.00,470.96 L18.95,469.62 L19.93,469.62 L19.93,477.88 Z" fill="#000" stroke="#000" stroke-width="0.25"/>
<text x="15.85" y="509.68" font-size="12.0" fill="#000"><tspan style="fill:none;stroke:none">1</tspan>00</text>
<path d="M18.86,509.68 L18.86,502.43 L17.00,503.76 L17.00,502.76 L18.95,501.42 L19.93,501.42 L19.93,509.68 Z" fill="#000" stroke="#000" stroke-width="0.25"/>
<text x="19.62" y="541.68" font-size="12.0" fill="#000">50</text>
<text x="28.29" y="574.18" font-size="12.0" fill="#000">0</text>
<text x="39.06" y="587.38" font-size="12.0" fill="#000">0</text>
<text x="73.80" y="587.26" font-size="12.0" fill="#000"><tspan style="fill:none;stroke:none">1</tspan></text>
<path d="M76.82,587.26 L76.82,580.01 L74.95,581.34 L74.95,580.34 L76.90,579.00 L77.88,579.00 L77.88,587.26 Z" fill="#000" stroke="#000" stroke-width="0.25"/>
<text x="108.16" y="587.38" font-size="12.0" fill="#000">2</text>
<text x="142.90" y="587.38" font-size="12.0" fill="#000">3</text>
<text x="177.10" y="587.26" font-size="12.0" fill="#000">4</text>
<text x="211.67" y="587.26" font-size="12.0" fill="#000">5</text>
<text x="246.22" y="587.38" font-size="12.0" fill="#000">6</text>
<text x="128.83" y="599.00" font-size="12.1" fill="#000">Years</text>
<text transform="translate(11.48,525.12) rotate(-90)" font-size="12.39" fill="#000">ALT (U/L)</text>
<path d="M215.50,445.50 L217.95,451.30 L213.05,451.30 Z" fill="#fff" stroke="#000" stroke-width="1.15" stroke-linejoin="miter"/>
<text x="223.05" y="453.70" font-size="12.8" fill="#000">C52</text>
<polyline points="51.30,512.10 47.50,517.00" fill="none" stroke="#000" stroke-width="1.0" stroke-linejoin="round"/>
<polygon points="42.70,523.70 44.60,516.20 51.00,520.00" fill="#000"/>
<text x="55.68" y="514.20" font-size="10.1" fill="#000" style="stroke-width:0.1px">AAV2 injection</text>
<polyline points="143.40,450.20 146.00,454.00" fill="none" stroke="#000" stroke-width="1.0" stroke-linejoin="round"/>
<polygon points="142.60,456.00 149.00,452.20 149.80,460.90" fill="#000"/>
<text x="116.08" y="449.00" font-size="10.1" fill="#000" style="stroke-width:0.1px">AAV2/5 injection</text>
<polyline points="152.50,462.00 152.50,541.00" fill="none" stroke="#000" stroke-width="1.4" stroke-linejoin="round"/>
<polyline points="43.00,539.00 106.80,544.10 115.40,551.40 124.10,551.40 133.30,542.40 141.00,541.50 146.20,525.60 150.20,535.50 152.60,538.00" fill="none" stroke="#000" stroke-width="1.1" stroke-linejoin="round"/>
<polyline points="154.40,529.70 165.30,532.00 175.20,526.50 184.20,516.40 192.90,527.30 201.50,522.00 210.70,513.50 218.80,523.40 228.00,528.50 236.10,528.50 241.80,527.70" fill="none" stroke="#000" stroke-width="1.1" stroke-linejoin="round"/>
<path d="M41.00,523.95 L43.05,529.05 L38.95,529.05 Z" fill="#fff" stroke="#000" stroke-width="1.15" stroke-linejoin="miter"/>
<path d="M41.40,532.45 L43.45,537.55 L39.35,537.55 Z" fill="#fff" stroke="#000" stroke-width="1.15" stroke-linejoin="miter"/>
<path d="M41.40,536.85 L43.45,541.95 L39.35,541.95 Z" fill="#fff" stroke="#000" stroke-width="1.15" stroke-linejoin="miter"/>
<path d="M41.40,540.75 L43.45,545.85 L39.35,545.85 Z" fill="#fff" stroke="#000" stroke-width="1.15" stroke-linejoin="miter"/>
<path d="M106.80,541.55 L108.85,546.65 L104.75,546.65 Z" fill="#fff" stroke="#000" stroke-width="1.15" stroke-linejoin="miter"/>
<path d="M115.40,548.85 L117.45,553.95 L113.35,553.95 Z" fill="#fff" stroke="#000" stroke-width="1.15" stroke-linejoin="miter"/>
<path d="M124.10,548.85 L126.15,553.95 L122.05,553.95 Z" fill="#fff" stroke="#000" stroke-width="1.15" stroke-linejoin="miter"/>
<path d="M133.30,539.85 L135.35,544.95 L131.25,544.95 Z" fill="#fff" stroke="#000" stroke-width="1.15" stroke-linejoin="miter"/>
<path d="M141.00,538.95 L143.05,544.05 L138.95,544.05 Z" fill="#fff" stroke="#000" stroke-width="1.15" stroke-linejoin="miter"/>
<path d="M146.20,523.05 L148.25,528.15 L144.15,528.15 Z" fill="#fff" stroke="#000" stroke-width="1.15" stroke-linejoin="miter"/>
<path d="M150.20,532.95 L152.25,538.05 L148.15,538.05 Z" fill="#fff" stroke="#000" stroke-width="1.15" stroke-linejoin="miter"/>
<path d="M152.60,461.85 L154.65,466.95 L150.55,466.95 Z" fill="#fff" stroke="#000" stroke-width="1.15" stroke-linejoin="miter"/>
<path d="M152.60,467.25 L154.65,472.35 L150.55,472.35 Z" fill="#fff" stroke="#000" stroke-width="1.15" stroke-linejoin="miter"/>
<path d="M152.60,473.05 L154.65,478.15 L150.55,478.15 Z" fill="#fff" stroke="#000" stroke-width="1.15" stroke-linejoin="miter"/>
<path d="M152.60,492.05 L154.65,497.15 L150.55,497.15 Z" fill="#fff" stroke="#000" stroke-width="1.15" stroke-linejoin="miter"/>
<path d="M152.60,497.25 L154.65,502.35 L150.55,502.35 Z" fill="#fff" stroke="#000" stroke-width="1.15" stroke-linejoin="miter"/>
<path d="M152.60,516.75 L154.65,521.85 L150.55,521.85 Z" fill="#fff" stroke="#000" stroke-width="1.15" stroke-linejoin="miter"/>
<path d="M154.40,527.15 L156.45,532.25 L152.35,532.25 Z" fill="#fff" stroke="#000" stroke-width="1.15" stroke-linejoin="miter"/>
<path d="M152.60,533.15 L154.65,538.25 L150.55,538.25 Z" fill="#fff" stroke="#000" stroke-width="1.15" stroke-linejoin="miter"/>
<path d="M152.60,537.25 L154.65,542.35 L150.55,542.35 Z" fill="#fff" stroke="#000" stroke-width="1.15" stroke-linejoin="miter"/>
<path d="M165.30,529.45 L167.35,534.55 L163.25,534.55 Z" fill="#fff" stroke="#000" stroke-width="1.15" stroke-linejoin="miter"/>
<path d="M175.20,523.95 L177.25,529.05 L173.15,529.05 Z" fill="#fff" stroke="#000" stroke-width="1.15" stroke-linejoin="miter"/>
<path d="M184.20,513.85 L186.25,518.95 L182.15,518.95 Z" fill="#fff" stroke="#000" stroke-width="1.15" stroke-linejoin="miter"/>
<path d="M192.90,524.75 L194.95,529.85 L190.85,529.85 Z" fill="#fff" stroke="#000" stroke-width="1.15" stroke-linejoin="miter"/>
<path d="M201.50,519.45 L203.55,524.55 L199.45,524.55 Z" fill="#fff" stroke="#000" stroke-width="1.15" stroke-linejoin="miter"/>
<path d="M210.70,510.95 L212.75,516.05 L208.65,516.05 Z" fill="#fff" stroke="#000" stroke-width="1.15" stroke-linejoin="miter"/>
<path d="M218.80,520.85 L220.85,525.95 L216.75,525.95 Z" fill="#fff" stroke="#000" stroke-width="1.15" stroke-linejoin="miter"/>
<path d="M228.00,525.95 L230.05,531.05 L225.95,531.05 Z" fill="#fff" stroke="#000" stroke-width="1.15" stroke-linejoin="miter"/>
<path d="M236.10,525.95 L238.15,531.05 L234.05,531.05 Z" fill="#fff" stroke="#000" stroke-width="1.15" stroke-linejoin="miter"/>
<path d="M241.80,525.15 L243.85,530.25 L239.75,530.25 Z" fill="#fff" stroke="#000" stroke-width="1.15" stroke-linejoin="miter"/>
<text x="267.46" y="433.89" font-size="26" font-weight="bold" fill="#000">F</text>
<rect x="304.20" y="527.15" width="208.00" height="32.50" fill="url(#dots5)" filter="url(#soft)"/>
<rect x="304.20" y="439.40" width="209.60" height="131.00" fill="none" stroke="#8a8a8a" stroke-width="1.0"/>
<line x1="302.70" y1="570.40" x2="304.20" y2="570.40" stroke="#8a8a8a" stroke-width="1"/>
<line x1="302.70" y1="563.85" x2="304.20" y2="563.85" stroke="#8a8a8a" stroke-width="1"/>
<line x1="302.70" y1="557.30" x2="304.20" y2="557.30" stroke="#8a8a8a" stroke-width="1"/>
<line x1="302.70" y1="550.75" x2="304.20" y2="550.75" stroke="#8a8a8a" stroke-width="1"/>
<line x1="302.70" y1="544.20" x2="304.20" y2="544.20" stroke="#8a8a8a" stroke-width="1"/>
<line x1="302.70" y1="537.65" x2="304.20" y2="537.65" stroke="#8a8a8a" stroke-width="1"/>
<line x1="302.70" y1="531.10" x2="304.20" y2="531.10" stroke="#8a8a8a" stroke-width="1"/>
<line x1="302.70" y1="524.55" x2="304.20" y2="524.55" stroke="#8a8a8a" stroke-width="1"/>
<line x1="302.70" y1="518.00" x2="304.20" y2="518.00" stroke="#8a8a8a" stroke-width="1"/>
<line x1="302.70" y1="511.45" x2="304.20" y2="511.45" stroke="#8a8a8a" stroke-width="1"/>
<line x1="302.70" y1="504.90" x2="304.20" y2="504.90" stroke="#8a8a8a" stroke-width="1"/>
<line x1="302.70" y1="498.35" x2="304.20" y2="498.35" stroke="#8a8a8a" stroke-width="1"/>
<line x1="302.70" y1="491.80" x2="304.20" y2="491.80" stroke="#8a8a8a" stroke-width="1"/>
<line x1="302.70" y1="485.25" x2="304.20" y2="485.25" stroke="#8a8a8a" stroke-width="1"/>
<line x1="302.70" y1="478.70" x2="304.20" y2="478.70" stroke="#8a8a8a" stroke-width="1"/>
<line x1="302.70" y1="472.15" x2="304.20" y2="472.15" stroke="#8a8a8a" stroke-width="1"/>
<line x1="302.70" y1="465.60" x2="304.20" y2="465.60" stroke="#8a8a8a" stroke-width="1"/>
<line x1="302.70" y1="459.05" x2="304.20" y2="459.05" stroke="#8a8a8a" stroke-width="1"/>
<line x1="302.70" y1="452.50" x2="304.20" y2="452.50" stroke="#8a8a8a" stroke-width="1"/>
<line x1="302.70" y1="445.95" x2="304.20" y2="445.95" stroke="#8a8a8a" stroke-width="1"/>
<line x1="302.70" y1="439.40" x2="304.20" y2="439.40" stroke="#8a8a8a" stroke-width="1"/>
<line x1="304.20" y1="570.40" x2="304.20" y2="572.40" stroke="#8a8a8a" stroke-width="1"/>
<line x1="312.93" y1="570.40" x2="312.93" y2="572.40" stroke="#8a8a8a" stroke-width="1"/>
<line x1="321.66" y1="570.40" x2="321.66" y2="572.40" stroke="#8a8a8a" stroke-width="1"/>
<line x1="330.40" y1="570.40" x2="330.40" y2="572.40" stroke="#8a8a8a" stroke-width="1"/>
<line x1="339.13" y1="570.40" x2="339.13" y2="572.40" stroke="#8a8a8a" stroke-width="1"/>
<line x1="347.86" y1="570.40" x2="347.86" y2="572.40" stroke="#8a8a8a" stroke-width="1"/>
<line x1="356.59" y1="570.40" x2="356.59" y2="572.40" stroke="#8a8a8a" stroke-width="1"/>
<line x1="365.33" y1="570.40" x2="365.33" y2="572.40" stroke="#8a8a8a" stroke-width="1"/>
<line x1="374.06" y1="570.40" x2="374.06" y2="572.40" stroke="#8a8a8a" stroke-width="1"/>
<line x1="382.79" y1="570.40" x2="382.79" y2="572.40" stroke="#8a8a8a" stroke-width="1"/>
<line x1="391.52" y1="570.40" x2="391.52" y2="572.40" stroke="#8a8a8a" stroke-width="1"/>
<line x1="400.26" y1="570.40" x2="400.26" y2="572.40" stroke="#8a8a8a" stroke-width="1"/>
<line x1="408.99" y1="570.40" x2="408.99" y2="572.40" stroke="#8a8a8a" stroke-width="1"/>
<line x1="417.72" y1="570.40" x2="417.72" y2="572.40" stroke="#8a8a8a" stroke-width="1"/>
<line x1="426.45" y1="570.40" x2="426.45" y2="572.40" stroke="#8a8a8a" stroke-width="1"/>
<line x1="435.19" y1="570.40" x2="435.19" y2="572.40" stroke="#8a8a8a" stroke-width="1"/>
<line x1="443.92" y1="570.40" x2="443.92" y2="572.40" stroke="#8a8a8a" stroke-width="1"/>
<line x1="452.65" y1="570.40" x2="452.65" y2="572.40" stroke="#8a8a8a" stroke-width="1"/>
<line x1="461.38" y1="570.40" x2="461.38" y2="572.40" stroke="#8a8a8a" stroke-width="1"/>
<line x1="470.12" y1="570.40" x2="470.12" y2="572.40" stroke="#8a8a8a" stroke-width="1"/>
<line x1="478.85" y1="570.40" x2="478.85" y2="572.40" stroke="#8a8a8a" stroke-width="1"/>
<line x1="487.58" y1="570.40" x2="487.58" y2="572.40" stroke="#8a8a8a" stroke-width="1"/>
<line x1="496.31" y1="570.40" x2="496.31" y2="572.40" stroke="#8a8a8a" stroke-width="1"/>
<line x1="505.05" y1="570.40" x2="505.05" y2="572.40" stroke="#8a8a8a" stroke-width="1"/>
<line x1="513.78" y1="570.40" x2="513.78" y2="572.40" stroke="#8a8a8a" stroke-width="1"/>
<text x="281.45" y="444.58" font-size="12.0" fill="#000">200</text>
<text x="281.45" y="478.28" font-size="12.0" fill="#000"><tspan style="fill:none;stroke:none">1</tspan>50</text>
<path d="M284.46,478.28 L284.46,471.03 L282.60,472.36 L282.60,471.36 L284.55,470.02 L285.53,470.02 L285.53,478.28 Z" fill="#000" stroke="#000" stroke-width="0.25"/>
<text x="281.45" y="510.78" font-size="12.0" fill="#000"><tspan style="fill:none;stroke:none">1</tspan>00</text>
<path d="M284.46,510.78 L284.46,503.53 L282.60,504.86 L282.60,503.86 L284.55,502.52 L285.53,502.52 L285.53,510.78 Z" fill="#000" stroke="#000" stroke-width="0.25"/>
<text x="284.82" y="543.28" font-size="12.0" fill="#000">50</text>
<text x="290.99" y="575.68" font-size="12.0" fill="#000">0</text>
<text x="302.56" y="587.78" font-size="12.0" fill="#000">0</text>
<text x="336.90" y="587.66" font-size="12.0" fill="#000"><tspan style="fill:none;stroke:none">1</tspan></text>
<path d="M339.92,587.66 L339.92,580.41 L338.05,581.74 L338.05,580.74 L340.00,579.40 L340.98,579.40 L340.98,587.66 Z" fill="#000" stroke="#000" stroke-width="0.25"/>
<text x="371.76" y="587.78" font-size="12.0" fill="#000">2</text>
<text x="408.00" y="587.78" font-size="12.0" fill="#000">3</text>
<text x="442.20" y="587.66" font-size="12.0" fill="#000">4</text>
<text x="477.17" y="587.66" font-size="12.0" fill="#000">5</text>
<text x="510.92" y="587.78" font-size="12.0" fill="#000">6</text>
<text x="395.23" y="599.50" font-size="12.1" fill="#000">Years</text>
<text transform="translate(275.47,531.62) rotate(-90)" font-size="12.1" fill="#000">AST (U/L)</text>
<path d="M481.00,445.30 L483.50,450.90 L478.50,450.90 Z" fill="#fff" stroke="#000" stroke-width="1.15" stroke-linejoin="miter"/>
<text x="488.35" y="453.80" font-size="12.8" fill="#000">C52</text>
<polyline points="314.40,517.80 310.50,523.00" fill="none" stroke="#000" stroke-width="1.0" stroke-linejoin="round"/>
<polygon points="306.20,528.70 307.10,521.00 313.50,525.10" fill="#000"/>
<text x="316.58" y="515.60" font-size="10.1" fill="#000" style="stroke-width:0.1px">AAV2 injection</text>
<polyline points="415.70,495.30 415.70,500.00" fill="none" stroke="#000" stroke-width="1.0" stroke-linejoin="round"/>
<polygon points="411.30,499.30 419.90,499.30 415.70,506.60" fill="#000"/>
<text x="388.68" y="492.20" font-size="10.1" fill="#000" style="stroke-width:0.1px">AAV2/5 injection</text>
<polyline points="416.60,512.00 416.60,550.00" fill="none" stroke="#000" stroke-width="1.25" stroke-linejoin="round"/>
<polyline points="306.70,542.00 371.00,527.80 379.70,535.60 388.00,540.80 397.00,557.60 406.10,555.30 412.20,543.70 414.00,547.70" fill="none" stroke="#000" stroke-width="1.1" stroke-linejoin="round"/>
<polyline points="419.30,543.70 421.20,545.00 430.00,548.30 439.70,548.30 448.70,549.80 457.50,544.30 466.60,548.90 476.10,549.80 484.00,553.80 493.10,554.20 501.40,548.70 507.20,548.30" fill="none" stroke="#000" stroke-width="1.1" stroke-linejoin="round"/>
<path d="M304.90,540.65 L306.95,545.75 L302.85,545.75 Z" fill="#fff" stroke="#000" stroke-width="1.15" stroke-linejoin="miter"/>
<path d="M304.90,545.65 L306.95,550.75 L302.85,550.75 Z" fill="#fff" stroke="#000" stroke-width="1.15" stroke-linejoin="miter"/>
<path d="M304.90,550.65 L306.95,555.75 L302.85,555.75 Z" fill="#fff" stroke="#000" stroke-width="1.15" stroke-linejoin="miter"/>
<path d="M371.00,525.25 L373.05,530.35 L368.95,530.35 Z" fill="#fff" stroke="#000" stroke-width="1.15" stroke-linejoin="miter"/>
<path d="M379.70,533.05 L381.75,538.15 L377.65,538.15 Z" fill="#fff" stroke="#000" stroke-width="1.15" stroke-linejoin="miter"/>
<path d="M388.00,538.25 L390.05,543.35 L385.95,543.35 Z" fill="#fff" stroke="#000" stroke-width="1.15" stroke-linejoin="miter"/>
<path d="M397.00,555.05 L399.05,560.15 L394.95,560.15 Z" fill="#fff" stroke="#000" stroke-width="1.15" stroke-linejoin="miter"/>
<path d="M406.10,552.75 L408.15,557.85 L404.05,557.85 Z" fill="#fff" stroke="#000" stroke-width="1.15" stroke-linejoin="miter"/>
<path d="M412.20,541.15 L414.25,546.25 L410.15,546.25 Z" fill="#fff" stroke="#000" stroke-width="1.15" stroke-linejoin="miter"/>
<path d="M417.00,510.45 L419.05,515.55 L414.95,515.55 Z" fill="#fff" stroke="#000" stroke-width="1.15" stroke-linejoin="miter"/>
<path d="M412.80,540.85 L414.85,545.95 L410.75,545.95 Z" fill="#fff" stroke="#000" stroke-width="1.15" stroke-linejoin="miter"/>
<path d="M419.20,541.75 L421.25,546.85 L417.15,546.85 Z" fill="#fff" stroke="#000" stroke-width="1.15" stroke-linejoin="miter"/>
<path d="M414.10,545.45 L416.15,550.55 L412.05,550.55 Z" fill="#fff" stroke="#000" stroke-width="1.15" stroke-linejoin="miter"/>
<path d="M418.70,544.95 L420.75,550.05 L416.65,550.05 Z" fill="#fff" stroke="#000" stroke-width="1.15" stroke-linejoin="miter"/>
<path d="M417.50,548.65 L419.55,553.75 L415.45,553.75 Z" fill="#fff" stroke="#000" stroke-width="1.15" stroke-linejoin="miter"/>
<path d="M416.00,549.05 L418.05,554.15 L413.95,554.15 Z" fill="#fff" stroke="#000" stroke-width="1.15" stroke-linejoin="miter"/>
<path d="M430.00,545.75 L432.05,550.85 L427.95,550.85 Z" fill="#fff" stroke="#000" stroke-width="1.15" stroke-linejoin="miter"/>
<path d="M439.70,545.75 L441.75,550.85 L437.65,550.85 Z" fill="#fff" stroke="#000" stroke-width="1.15" stroke-linejoin="miter"/>
<path d="M448.70,547.25 L450.75,552.35 L446.65,552.35 Z" fill="#fff" stroke="#000" stroke-width="1.15" stroke-linejoin="miter"/>
<path d="M457.50,541.75 L459.55,546.85 L455.45,546.85 Z" fill="#fff" stroke="#000" stroke-width="1.15" stroke-linejoin="miter"/>
<path d="M466.60,546.35 L468.65,551.45 L464.55,551.45 Z" fill="#fff" stroke="#000" stroke-width="1.15" stroke-linejoin="miter"/>
<path d="M476.10,547.25 L478.15,552.35 L474.05,552.35 Z" fill="#fff" stroke="#000" stroke-width="1.15" stroke-linejoin="miter"/>
<path d="M484.00,551.25 L486.05,556.35 L481.95,556.35 Z" fill="#fff" stroke="#000" stroke-width="1.15" stroke-linejoin="miter"/>
<path d="M493.10,551.65 L495.15,556.75 L491.05,556.75 Z" fill="#fff" stroke="#000" stroke-width="1.15" stroke-linejoin="miter"/>
<path d="M501.40,546.15 L503.45,551.25 L499.35,551.25 Z" fill="#fff" stroke="#000" stroke-width="1.15" stroke-linejoin="miter"/>
<path d="M507.20,545.75 L509.25,550.85 L505.15,550.85 Z" fill="#fff" stroke="#000" stroke-width="1.15" stroke-linejoin="miter"/>
</svg></body></html>
